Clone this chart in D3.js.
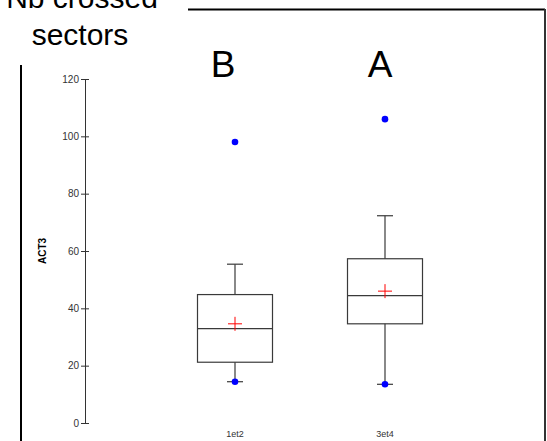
<!DOCTYPE html>
<html><head><meta charset="utf-8">
<script src="https://cdn.jsdelivr.net/npm/d3@7"></script>
<style>body{margin:0;background:#fff}svg{display:block;font-family:"Liberation Sans",Arial,sans-serif}</style>
</head><body><svg id="c" width="547" height="441"></svg>
<script>
const categories = ["1et2", "3et4"];
const groupLetters = ["B", "A"];
const q1 = [21.2, 34.6];
const median = [32.9, 44.4];
const q3 = [44.8, 57.3];
const whiskerLow = [14.4, 13.5];
const whiskerHigh = [55.4, 72.3];
const means = [34.6, 46.0];
const outliers = [[14.4, 98], [13.5, 106]];
const yTicks = [0, 20, 40, 60, 80, 100, 120];

const svg = d3.select("#c");
const y = d3.scaleLinear().domain([0, 120]).range([423, 79]);
const x = d3.scalePoint().domain(categories).range([85, 535]).padding(1);
const boxW = 75, capW = 16, crossW = 7;

// frame lines
svg.append("line").attr("x1", 188).attr("x2", 545).attr("y1", 9.5).attr("y2", 9.5).attr("stroke", "#000").attr("stroke-width", 2);
svg.append("line").attr("x1", 545).attr("x2", 545).attr("y1", 9).attr("y2", 441).attr("stroke", "#333").attr("stroke-width", 2);
svg.append("line").attr("x1", 21).attr("x2", 21).attr("y1", 65).attr("y2", 441).attr("stroke", "#000").attr("stroke-width", 2);

// title
svg.append("text").attr("x", 82).attr("y", 8).attr("text-anchor", "middle").attr("font-size", 30).text("Nb crossed");
svg.append("text").attr("x", 80).attr("y", 45).attr("text-anchor", "middle").attr("font-size", 30).text("sectors");

// y axis
const yAxis = d3.axisLeft(y).tickValues(yTicks).tickSize(4).tickPadding(2).tickFormat(d3.format("d"));
const ga = svg.append("g").attr("transform", "translate(85,0)").call(yAxis);
ga.select(".domain").attr("stroke", "#333");
ga.selectAll(".tick line").attr("stroke", "#333").attr("x2", -4).attr("x1", 4);
ga.selectAll(".tick text").attr("font-size", 10).attr("fill", "#333").attr("font-family", "Liberation Sans, Arial, sans-serif").attr("x", -6);

svg.append("text").attr("transform", "translate(46,251) rotate(-90)").attr("text-anchor", "middle")
  .attr("font-size", 10).attr("font-weight", "bold").text("ACT3");

// x labels
svg.selectAll(".xl").data(categories).enter().append("text")
  .attr("x", d => x(d)).attr("y", 437).attr("text-anchor", "middle").attr("font-size", 9).attr("fill", "#333").text(d => d);

// group letters
svg.selectAll(".gl").data(categories).enter().append("text")
  .attr("x", (d, i) => x(d) - 12 + i * 7).attr("y", 77).attr("text-anchor", "middle").attr("font-size", 37).text((d, i) => groupLetters[i]);

const stroke = "#3a3a3a";
categories.forEach((c, i) => {
  const cx = x(c);
  const g = svg.append("g");
  g.append("line").attr("x1", cx).attr("x2", cx).attr("y1", y(whiskerHigh[i])).attr("y2", y(q3[i])).attr("stroke", stroke).attr("stroke-width", 1.2);
  g.append("line").attr("x1", cx).attr("x2", cx).attr("y1", y(q1[i])).attr("y2", y(whiskerLow[i])).attr("stroke", stroke).attr("stroke-width", 1.2);
  g.append("line").attr("x1", cx - capW / 2).attr("x2", cx + capW / 2).attr("y1", y(whiskerHigh[i])).attr("y2", y(whiskerHigh[i])).attr("stroke", stroke).attr("stroke-width", 1.2);
  g.append("line").attr("x1", cx - capW / 2).attr("x2", cx + capW / 2).attr("y1", y(whiskerLow[i])).attr("y2", y(whiskerLow[i])).attr("stroke", stroke).attr("stroke-width", 1.2);
  g.append("rect").attr("x", cx - boxW / 2).attr("width", boxW).attr("y", y(q3[i])).attr("height", y(q1[i]) - y(q3[i]))
    .attr("fill", "none").attr("stroke", stroke).attr("stroke-width", 1.2);
  g.append("line").attr("x1", cx - boxW / 2).attr("x2", cx + boxW / 2).attr("y1", y(median[i])).attr("y2", y(median[i])).attr("stroke", stroke).attr("stroke-width", 1.2);
  // mean cross
  g.append("line").attr("x1", cx - crossW).attr("x2", cx + crossW).attr("y1", y(means[i])).attr("y2", y(means[i])).attr("stroke", "#f00").attr("stroke-width", 1);
  g.append("line").attr("x1", cx).attr("x2", cx).attr("y1", y(means[i]) - crossW).attr("y2", y(means[i]) + crossW).attr("stroke", "#f00").attr("stroke-width", 1);
  outliers[i].forEach(v => {
    g.append("circle").attr("cx", cx).attr("cy", y(v)).attr("r", 3.3).attr("fill", "#0000ff");
  });
});
</script></body></html>
